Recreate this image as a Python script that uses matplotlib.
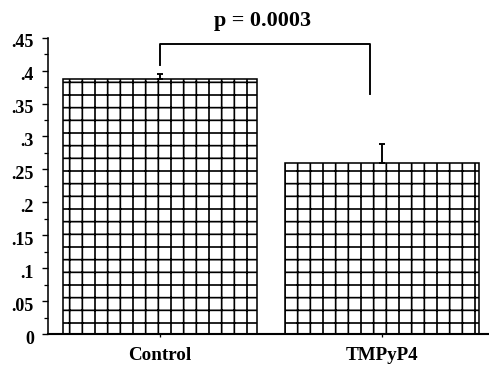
import matplotlib
matplotlib.use("Agg")
import matplotlib.pyplot as plt
from matplotlib.ticker import MultipleLocator, FixedFormatter, FixedLocator
import matplotlib.transforms as mtransforms
import numpy as np

# group means with upper error (SEM)
groups = ["Control", "TMPyP4"]
means = [0.3868, 0.2593]
errs = [0.008, 0.029]
ytick_vals = [0, 0.05, 0.1, 0.15, 0.2, 0.25, 0.3, 0.35, 0.4, 0.45]
ytick_text = ["0", ".05", ".1", ".15", ".2", ".25", ".3", ".35", ".4", ".45"]
p_text = "p = 0.0003"

plt.rcParams["font.family"] = ["Liberation Serif", "DejaVu Serif"]
plt.rcParams["font.weight"] = "bold"
plt.rcParams["hatch.linewidth"] = 1.6
plt.rcParams["hatch.color"] = "#1a1a1a"

dpi = 76
fig = plt.figure(figsize=(489 / dpi, 365 / dpi), dpi=dpi)
ax = fig.add_axes([48 / 489, 31 / 365, 1 - 48 / 489, (334 - 37.7) / 365])

x = np.arange(len(groups))
ax.bar(x, means, width=0.872, color="white", edgecolor="black",
       linewidth=1.5, hatch="+", zorder=2)
ax.errorbar(x, means, yerr=[np.zeros(len(errs)), errs], fmt="none",
            ecolor="black", elinewidth=1.8, capsize=3.2, capthick=1.8, zorder=3)

ax.set_xlim(-0.503, 1.48)
ax.set_ylim(0, 0.45)

# significance bracket
br_top = 0.4409
ax.plot([0, 0, 0.944, 0.944], [0.4086, br_top, br_top, 0.3645],
        color="black", lw=1.8, clip_on=False, zorder=4)
ax.text(0.46, 0.475, p_text, ha="center", va="center", fontsize=21,
        fontweight="bold", clip_on=False)

ax.yaxis.set_major_locator(FixedLocator(ytick_vals))
ax.yaxis.set_major_formatter(FixedFormatter(ytick_text))
ax.yaxis.set_minor_locator(MultipleLocator(0.025))
ax.set_xticks(x)
ax.set_xticklabels(groups)

ax.tick_params(axis="y", which="major", length=5.5, width=1.3, pad=8,
               labelsize=17, direction="out")
ax.tick_params(axis="y", which="minor", length=3.5, width=1.2, direction="out")
ax.tick_params(axis="x", length=2.5, width=1.2, pad=10, labelsize=18)
for lab in ax.get_xticklabels() + ax.get_yticklabels():
    lab.set_fontweight("bold")

# y labels sit slightly below their ticks
shift = mtransforms.ScaledTranslation(0, -3 / 72, fig.dpi_scale_trans)
for lab in ax.get_yticklabels():
    lab.set_transform(lab.get_transform() + shift)

for side in ["top", "right"]:
    ax.spines[side].set_visible(False)
ax.spines["left"].set_linewidth(1.5)
ax.spines["bottom"].set_linewidth(2)

fig.savefig("out.png", dpi=dpi)
